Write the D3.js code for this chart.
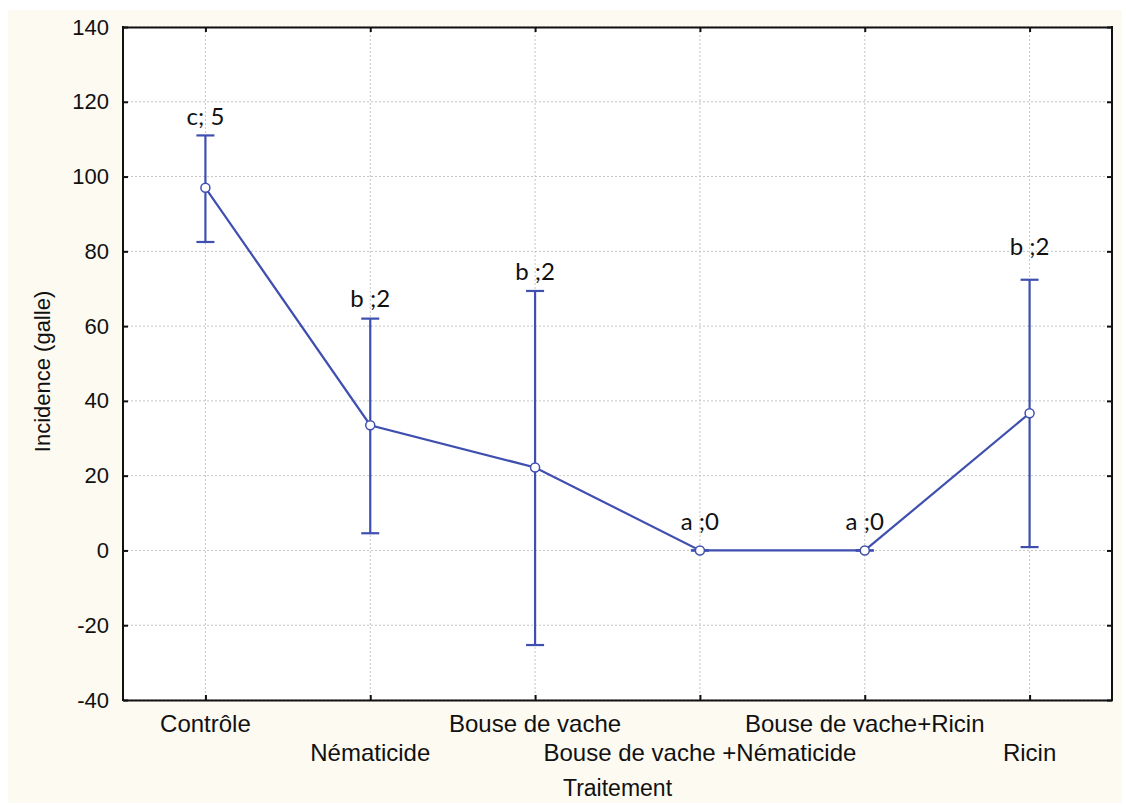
<!DOCTYPE html>
<html>
<head>
<meta charset="utf-8">
<script src="https://d3js.org/d3.v7.min.js"></script>
<style>
  body { margin: 0; background: #ffffff; }
</style>
</head>
<body>
<div id="my_dataviz"></div>
<script>
// data
var categories = ["Contrôle", "Nématicide", "Bouse de vache", "Bouse de vache +Nématicide", "Bouse de vache+Ricin", "Ricin"];
var means = [97, 33.5, 22.2, 0, 0, 36.7];
var upper = [111, 62, 69.4, 0, 0, 72.4];
var lower = [82.5, 4.6, -25.3, 0, 0, 0.9];
var letters = ["c; 5", "b ;2", "b ;2", "a ;0", "a ;0", "b ;2"];
var letterY = [113.8, 65.1, 72.3, 5.4, 5.4, 79.0];
var yTicks = [-40, -20, 0, 20, 40, 60, 80, 100, 120, 140];

var W = 1126, H = 805;
var margin = {top: 27, right: 14, bottom: 105, left: 123},
    width = W - margin.left - margin.right,
    height = H - margin.top - margin.bottom;

var blue = "#3f4fb0";

var root = d3.select("#my_dataviz")
  .append("svg")
    .attr("width", W)
    .attr("height", H);

// cream page background
root.append("rect")
  .attr("x", 8).attr("y", 10)
  .attr("width", 1114).attr("height", 793)
  .attr("fill", "#fdfaf2");

var svg = root.append("g")
  .attr("transform", "translate(" + margin.left + "," + margin.top + ")");

svg.append("rect")
  .attr("width", width).attr("height", height)
  .attr("fill", "#ffffff");

var x = d3.scalePoint()
  .domain(categories)
  .range([0, width])
  .padding(0.5);

var y = d3.scaleLinear()
  .domain([-40, 140])
  .range([height, 0]);

// dotted grid
svg.append("g")
  .selectAll("line.h")
  .data(yTicks)
  .enter()
  .append("line")
    .attr("x1", 0).attr("x2", width)
    .attr("y1", function(d) { return y(d); })
    .attr("y2", function(d) { return y(d); })
    .attr("stroke", "#c4c4c4")
    .attr("stroke-width", 1)
    .attr("stroke-dasharray", "2,2");

svg.append("g")
  .selectAll("line.v")
  .data(categories)
  .enter()
  .append("line")
    .attr("y1", 0).attr("y2", height)
    .attr("x1", function(d) { return x(d); })
    .attr("x2", function(d) { return x(d); })
    .attr("stroke", "#c4c4c4")
    .attr("stroke-width", 1)
    .attr("stroke-dasharray", "2,2");

// axes with inward ticks
var yAxis = svg.append("g")
  .call(d3.axisLeft(y).tickValues(yTicks).tickSizeInner(-5).tickSizeOuter(0).tickPadding(14)
    .tickFormat(function(d) { return String(d); }));
var yAxisR = svg.append("g")
  .attr("transform", "translate(" + width + ",0)")
  .call(d3.axisRight(y).tickValues(yTicks).tickSizeInner(-5).tickSizeOuter(0).tickFormat(""));
var xAxis = svg.append("g")
  .attr("transform", "translate(0," + height + ")")
  .call(d3.axisBottom(x).tickSizeInner(-5).tickSizeOuter(0).tickFormat(""));
var xAxisT = svg.append("g")
  .call(d3.axisTop(x).tickSizeInner(-5).tickSizeOuter(0).tickFormat(""));

[yAxis, yAxisR, xAxis, xAxisT].forEach(function(a) {
  a.select(".domain").attr("stroke", "#111").attr("stroke-width", 2);
  a.selectAll(".tick line").attr("stroke", "#111").attr("stroke-width", 2);
});
yAxis.selectAll(".tick text")
  .attr("font-family", "Liberation Sans, Arial, sans-serif")
  .attr("font-size", "22px")
  .attr("fill", "#111");
// left and right borders reach the corners
yAxis.select(".domain").attr("d", "M0,-1V" + (height + 1));
yAxisR.select(".domain").attr("d", "M0,-1V" + (height + 1));

// staggered category labels
svg.append("g")
  .selectAll("text")
  .data(categories)
  .enter()
  .append("text")
    .attr("x", function(d) { return x(d); })
    .attr("y", function(d, i) { return height + (i % 2 == 0 ? 32 : 61); })
    .attr("text-anchor", "middle")
    .attr("font-family", "Liberation Sans, Arial, sans-serif")
    .attr("font-size", "24px")
    .attr("fill", "#111")
    .text(function(d) { return d; });

// axis titles
svg.append("text")
  .attr("x", width / 2)
  .attr("y", height + 96)
  .attr("text-anchor", "middle")
  .attr("font-family", "Liberation Sans, Arial, sans-serif")
  .attr("font-size", "23px")
  .attr("fill", "#111")
  .text("Traitement");

svg.append("text")
  .attr("transform", "translate(" + (-73) + "," + (height / 2 + 8) + ") rotate(-90)")
  .attr("text-anchor", "middle")
  .attr("font-family", "Liberation Sans, Arial, sans-serif")
  .attr("font-size", "22px")
  .attr("fill", "#111")
  .text("Incidence (galle)");

// error bars
var bars = svg.append("g")
  .selectAll("g")
  .data(categories)
  .enter()
  .append("g");
bars.append("line")
  .attr("x1", function(d) { return x(d); })
  .attr("x2", function(d) { return x(d); })
  .attr("y1", function(d, i) { return y(upper[i]); })
  .attr("y2", function(d, i) { return y(lower[i]); })
  .attr("stroke", blue).attr("stroke-width", 2.2);
bars.append("line")
  .attr("x1", function(d) { return x(d) - 9; })
  .attr("x2", function(d) { return x(d) + 9; })
  .attr("y1", function(d, i) { return y(upper[i]); })
  .attr("y2", function(d, i) { return y(upper[i]); })
  .attr("stroke", blue).attr("stroke-width", 2.2);
bars.append("line")
  .attr("x1", function(d) { return x(d) - 9; })
  .attr("x2", function(d) { return x(d) + 9; })
  .attr("y1", function(d, i) { return y(lower[i]); })
  .attr("y2", function(d, i) { return y(lower[i]); })
  .attr("stroke", blue).attr("stroke-width", 2.2);

// mean line
var line = d3.line()
  .x(function(d, i) { return x(categories[i]); })
  .y(function(d) { return y(d); });
svg.append("path")
  .datum(means)
  .attr("d", line)
  .attr("fill", "none")
  .attr("stroke", blue)
  .attr("stroke-width", 2.2);

svg.append("g")
  .selectAll("circle")
  .data(means)
  .enter()
  .append("circle")
    .attr("cx", function(d, i) { return x(categories[i]); })
    .attr("cy", function(d) { return y(d); })
    .attr("r", 4.5)
    .attr("fill", "#fff")
    .attr("stroke", blue)
    .attr("stroke-width", 1.5);

// letter labels
svg.append("g")
  .selectAll("text")
  .data(letters)
  .enter()
  .append("text")
    .attr("x", function(d, i) { return x(categories[i]); })
    .attr("y", function(d, i) { return y(letterY[i]); })
    .attr("text-anchor", "middle")
    .attr("font-family", "Lato, Open Sans, sans-serif")
    .attr("font-size", "24px")
    .attr("fill", "#111")
    .text(function(d) { return d; });
</script>
</body>
</html>
